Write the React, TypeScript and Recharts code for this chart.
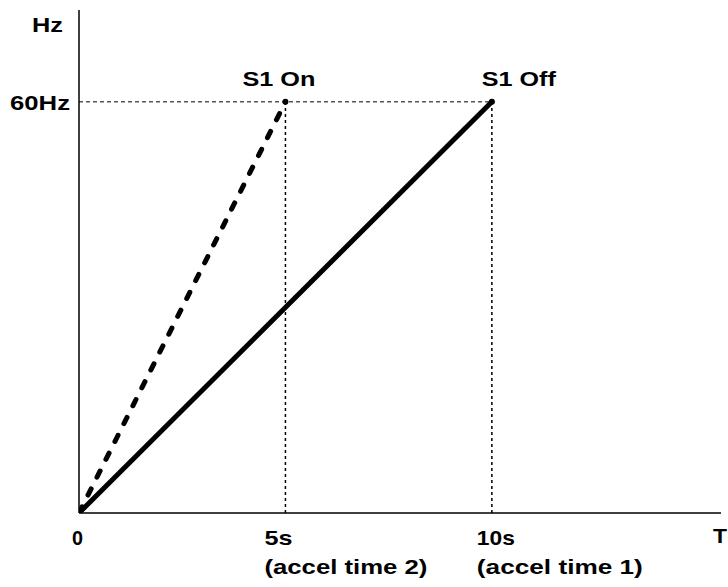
import { LineChart, Line, XAxis, YAxis, ReferenceLine, ReferenceDot, Label } from "recharts";

const accel1T = [0, 10];
const accel1Hz = [0, 60];
const accel2T = [0, 5];
const accel2Hz = [0, 60];

const xTicks = [0, 5, 10];
const xTickLabels = [["0"], ["5s", "(accel time 2)"], ["10s", "(accel time 1)"]];
const yTicks = [60];
const yTickLabels = ["60Hz"];

const eventT = [5, 10];
const eventHz = [60, 60];
const eventLabels = ["S1 On", "S1 Off"];

const axisMaxT = 15.55;
const axisMaxHz = 73.4;

// measured widths of the (horizontally stretched) labels in the picture
const textWidths: Record<string, number> = {
  Hz: 31,
  "60Hz": 60,
  "S1 On": 73,
  "S1 Off": 74,
  "0": 11,
  "5s": 28,
  "10s": 38,
  "(accel time 2)": 163,
  "(accel time 1)": 166,
  T: 14,
};

const accel1 = accel1T.map((t, i) => ({ t, hz: accel1Hz[i] }));
const accel2 = accel2T.map((t, i) => ({ t, hz: accel2Hz[i] }));

function Txt({ x, y, text, anchor = "start" }: { x: number; y: number; text: string; anchor?: string }) {
  return (
    <text
      x={x}
      y={y}
      fontFamily="'Liberation Sans', Arial, sans-serif"
      fontWeight={700}
      fontSize={21}
      fill="#000"
      textAnchor={anchor as any}
      textLength={textWidths[text]}
      lengthAdjust="spacingAndGlyphs"
    >
      {text}
    </text>
  );
}

const xTickDx: Record<number, number> = { 0: -7, 5: -21, 10: -15 };

function XTick(props: any) {
  const { x, y, payload } = props;
  const lines = xTickLabels[xTicks.indexOf(payload.value)] || [];
  return (
    <g>
      {lines.map((s, i) => (
        <Txt key={s} x={x + xTickDx[payload.value]} y={y + 24 + i * 29} text={s} />
      ))}
    </g>
  );
}

function YTick(props: any) {
  const { x, y, payload } = props;
  const s = yTickLabels[yTicks.indexOf(payload.value)];
  return <Txt x={x - 1} y={y + 8} text={s} anchor="end" />;
}

const eventDx = [-43, -10];

export default function App() {
  return (
    <div style={{ position: "absolute", left: 0, top: 0, width: 728, height: 587, background: "#fff" }}>
      <LineChart width={728} height={587} margin={{ top: 10, right: 7, bottom: 73, left: 78 }}>
        <XAxis
          type="number"
          dataKey="t"
          domain={[0, axisMaxT]}
          ticks={xTicks}
          tick={<XTick />}
          tickLine={false}
          height={1}
          axisLine={{ stroke: "#000", strokeWidth: 1.5 }}
          allowDataOverflow
        >
          <Label
            content={(p: any) => (
              <Txt x={p.viewBox.x + p.viewBox.width - 8} y={p.viewBox.y + 30} text="T" />
            )}
          />
        </XAxis>
        <YAxis
          type="number"
          dataKey="hz"
          domain={[0, axisMaxHz]}
          ticks={yTicks}
          tick={<YTick />}
          tickLine={false}
          width={1}
          axisLine={{ stroke: "#000", strokeWidth: 1.5 }}
          allowDataOverflow
        >
          <Label content={(p: any) => <Txt x={p.viewBox.x - 46} y={p.viewBox.y + 22} text="Hz" />} />
        </YAxis>

        <ReferenceLine
          segment={[
            { x: 0, y: eventHz[1] },
            { x: eventT[1], y: eventHz[1] },
          ]}
          stroke="#000"
          strokeWidth={1}
          strokeDasharray="4 3"
        />
        {eventT.map((t, i) => (
          <ReferenceLine
            key={"v" + i}
            segment={[
              { x: t, y: 0 },
              { x: t, y: eventHz[i] },
            ]}
            stroke="#000"
            strokeWidth={1.5}
            strokeDasharray="3 3"
          />
        ))}

        <Line
          data={accel1}
          dataKey="hz"
          type="linear"
          stroke="#000"
          strokeWidth={5}
          strokeLinecap="round"
          dot={false}
          activeDot={false}
          isAnimationActive={false}
        />
        <Line
          data={accel2}
          dataKey="hz"
          type="linear"
          stroke="#000"
          strokeWidth={5}
          strokeLinecap="round"
          strokeDasharray="7 13"
          dot={false}
          activeDot={false}
          isAnimationActive={false}
        />

        {eventT.map((t, i) => (
          <ReferenceDot
            key={"d" + i}
            x={t}
            y={eventHz[i]}
            r={3}
            fill="#000"
            stroke="none"
            label={
              <Label
                content={(p: any) => {
                  const cx = p.viewBox.x + p.viewBox.width / 2;
                  const cy = p.viewBox.y + p.viewBox.height / 2;
                  return <Txt x={cx + eventDx[i]} y={cy - 16} text={eventLabels[i]} />;
                }}
              />
            }
          />
        ))}
      </LineChart>
    </div>
  );
}
